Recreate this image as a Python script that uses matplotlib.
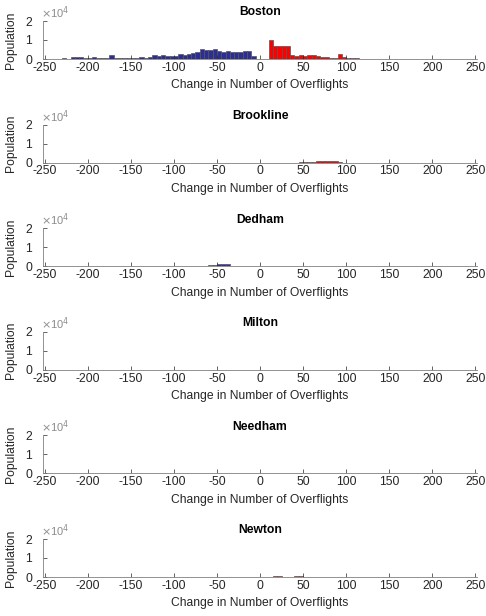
import numpy as np
import matplotlib
matplotlib.use('Agg')
import matplotlib.pyplot as plt

plt.rcParams['font.family'] = ['Liberation Sans', 'DejaVu Sans']
plt.rcParams['axes.unicode_minus'] = False

# histogram bins (change in number of overflights)
bin_edges = np.arange(-250, 255, 5)

towns = ['Boston', 'Brookline', 'Dedham', 'Milton', 'Needham', 'Newton']

# populations per bin, listed from the first non-empty bin (start value = left edge)
boston_neg_start = -230
boston_neg = [500, 0, 1200, 1200, 800, 600, 500, 800, 600, 700,
              600, 1900, 600, 700, 600, 500, 700, 600, 1000, 500,
              1000, 2000, 1500, 2000, 1500, 1800, 1500, 2500, 2000, 2500,
              3000, 3500, 5200, 4500, 4500, 5300, 4300, 3500, 4300, 3500,
              3800, 3800, 4000, 4300, 1500]
boston_pos_start = 10
boston_pos = [10200, 7000, 7000, 7000, 7000, 2000, 1500, 2000, 1500, 2000,
              2000, 1500, 1000, 1000, 500, 500, 2500, 1000, 500, 500, 300, 200]

brookline_start = 45
brookline = [200, 300, 200, 300, 800, 700, 800, 1000, 700, 300]

dedham_start = -65
dedham = [200, 400, 600, 1000, 1200, 1000]

milton_start = 0
milton = []

needham_start = 0
needham = []

newton_start = 15
newton = [300, 400, 200, 100, 100, 300, 400, 100]

segments = {
    'Boston': [(boston_neg_start, boston_neg), (boston_pos_start, boston_pos)],
    'Brookline': [(brookline_start, brookline)],
    'Dedham': [(dedham_start, dedham)],
    'Milton': [(milton_start, milton)],
    'Needham': [(needham_start, needham)],
    'Newton': [(newton_start, newton)],
}

BLUE = '#2d2d96'
RED = '#ff0000'
AX_COLOR = '#262626'

fig = plt.figure(figsize=(4.86, 6.16), dpi=100)

left = 43 / 486
width = 434 / 486
height = 38 / 616
step = 103.6 / 616
top_bottom = 1 - 59 / 616

for i, town in enumerate(towns):
    ax = fig.add_axes([left, top_bottom - i * step, width, height])
    counts = np.zeros(len(bin_edges) - 1)
    for start, vals in segments[town]:
        j0 = int(np.searchsorted(bin_edges, start))
        counts[j0:j0 + len(vals)] = vals
    lefts = bin_edges[:-1]
    colors = [BLUE if x < 0 else RED for x in lefts]
    ax.bar(lefts, counts, width=5, align='edge', color=colors,
           edgecolor='#555555', linewidth=0.5)

    ax.set_xlim(-252, 252)
    ax.set_ylim(0, 20000)
    ax.set_xticks(np.arange(-250, 251, 50))
    ax.set_yticks([0, 10000, 20000])
    ax.set_yticklabels(['0', '1', '2'])
    ax.tick_params(direction='in', length=3, width=0.5, labelsize=8.7,
                   colors=AX_COLOR)
    ax.tick_params(axis='x', pad=2)
    ax.tick_params(axis='y', pad=8)
    for s in ['top', 'right']:
        ax.spines[s].set_visible(False)
    for s in ['left', 'bottom']:
        ax.spines[s].set_linewidth(0.6)
        ax.spines[s].set_color('#808080')
    ax.text(-0.005, 1.0, r'$\times$10$^4$', transform=ax.transAxes,
            fontsize=8, color='#8c8c8c', ha='left', va='bottom')
    ax.set_title(town, fontsize=8.7, fontweight='bold', pad=4, color='black')
    ax.set_xlabel('Change in Number of Overflights', fontsize=8.7,
                  color=AX_COLOR, labelpad=4)
    ax.set_ylabel('Population', fontsize=8.7, color=AX_COLOR, labelpad=6)

fig.savefig('out.png', dpi=100)
